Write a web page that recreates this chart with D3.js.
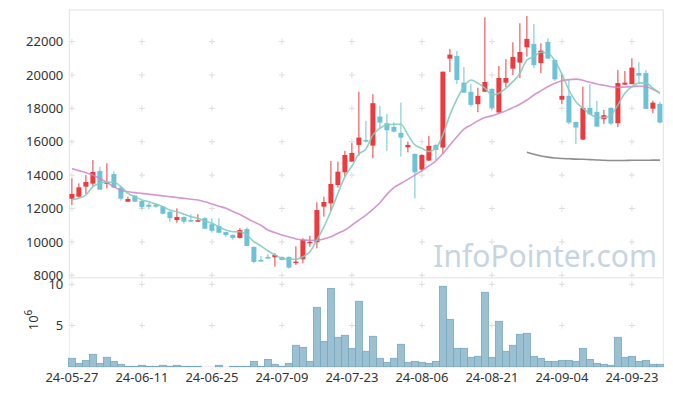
<!DOCTYPE html>
<html lang="en">
<head>
    <meta charset="UTF-8">
    <title>Price and volume</title>
    <script src="https://cdn.jsdelivr.net/npm/d3@7"></script>
    <style>
        body { margin: 0; background: #fff; }
        text { font-family: 'Noto Sans', sans-serif; font-size: 13px; fill: #333; }
    </style>
</head>
<body>
<script>
    const width  = 673;
    const height = 396;

    // trading days, 2024-05-27 .. 2024-09-27
    const dates = [
        "24-05-27","24-05-28","24-05-29","24-05-30","24-05-31",
        "24-06-03","24-06-04","24-06-05","24-06-07","24-06-10","24-06-11","24-06-12","24-06-13","24-06-14",
        "24-06-17","24-06-18","24-06-19","24-06-20","24-06-21","24-06-24","24-06-25","24-06-26","24-06-27","24-06-28",
        "24-07-01","24-07-02","24-07-03","24-07-04","24-07-05","24-07-08","24-07-09","24-07-10","24-07-11","24-07-12",
        "24-07-15","24-07-16","24-07-17","24-07-18","24-07-19","24-07-22","24-07-23","24-07-24","24-07-25","24-07-26",
        "24-07-29","24-07-30","24-07-31","24-08-01","24-08-02","24-08-05","24-08-06","24-08-07","24-08-08","24-08-09",
        "24-08-12","24-08-13","24-08-14","24-08-16","24-08-19","24-08-20","24-08-21","24-08-22","24-08-23",
        "24-08-26","24-08-27","24-08-28","24-08-29","24-08-30",
        "24-09-02","24-09-03","24-09-04","24-09-05","24-09-06","24-09-09","24-09-10","24-09-11","24-09-12","24-09-13",
        "24-09-19","24-09-20","24-09-23","24-09-24","24-09-25","24-09-26","24-09-27"
    ];

    const open  = [12590,12710,13310,13490,14250,13490,14070,13250,12410,12770,12450,12230,12230,12110,11810,
                   11310,11490,11310,11240,11420,11060,10950,10590,10420,10240,10770,9700,8920,9100,9080,
                   9100,9100,8760,8960,9920,9980,12110,12310,13410,14170,14810,15810,16110,15770,17510,
                   17110,16890,16530,15670,15270,14330,14870,15810,15650,20980,21140,19540,18990,18250,19000,
                   19170,17750,19540,20380,20740,21660,21860,20710,21980,20900,18520,18750,17190,16130,18030,
                   17790,17350,18030,17110,19420,19450,20120,20120,17980,18270];
    const high  = [13810,13510,14010,14910,14510,14710,14230,13310,12710,12800,12470,12350,12290,12150,11830,
                   12010,11520,11660,11660,11480,11420,11420,10620,10440,10820,10870,9720,9160,9280,9320,
                   9130,9130,9740,10220,10370,12370,12710,14850,14810,15450,15910,19000,17250,18850,18150,
                   17670,17170,18340,16010,15300,15250,16350,15850,20200,21560,21440,20470,19460,19240,23460,
                   19200,20540,20940,21960,23100,23540,23060,21900,22200,20920,20000,19700,17200,19300,19450,
                   18450,17910,18050,20290,20240,21000,20760,20300,18460,18390];
    const low   = [12210,12650,12870,13350,13130,13210,13250,12470,12410,12400,11950,11960,12050,11650,11210,
                   11150,11090,11210,11240,10790,10550,10550,10310,10130,10200,9760,8720,8800,8990,8520,
                   8900,8400,8620,8720,9710,9620,11510,11850,13250,13910,14810,15170,15960,15010,16810,
                   15450,16550,15110,15370,12610,14200,14870,14910,15310,20170,19450,18940,18100,17770,19000,
                   17910,17750,19270,19990,19810,21100,20410,20110,20980,19640,18250,17050,15870,16100,17600,
                   16900,17070,17000,16870,19400,19450,19510,17970,17710,17100];
    const close = [12870,13270,13590,14190,13130,13570,13250,12590,12570,12410,12080,12110,12110,11690,11420,
                   11490,11210,11210,11300,10790,10670,10550,10410,10240,10710,9760,8800,8860,9000,9220,
                   8920,8460,8820,10120,10010,11910,12390,13470,14210,15210,15330,16250,16010,18310,17150,
                   16690,16610,16250,15810,14170,15210,15750,15510,20200,21220,19700,18940,18210,18750,19580,
                   18030,19820,19820,21080,21380,22160,20590,21460,20980,19740,18750,17150,16850,18030,17650,
                   16910,17590,17090,19520,19540,20440,19960,17970,18340,17150];

    // volume, millions of shares
    const volume = [1.02,0.41,0.77,1.50,0.41,1.14,0.65,0.29,0.05,0.05,0.17,0.05,0.05,0.17,0.05,
                    0.17,0.05,0.05,0.05,0,0,0.17,0,0.05,0.05,0.05,0.65,0.05,0.89,0.29,
                    0.05,0.41,2.60,2.35,0.65,7.20,3.08,9.50,3.57,3.81,2.23,7.94,1.87,3.69,1.02,
                    0.53,1.02,2.72,0.53,0.65,0.53,0.41,0.65,9.76,5.75,2.23,2.23,1.14,1.26,9.03,
                    1.14,5.51,1.87,2.60,3.93,4.05,1.26,1.02,0.65,0.65,0.77,0.77,0.65,2.23,0.89,
                    0.41,0.29,0.17,3.57,1.14,1.26,0.65,0.77,0.29,0.29];

    // moving averages
    const ma5  = [12530,12610,12810,13310,13510,13590,13570,13310,12910,12710,12510,12410,12270,12110,11910,
                  11810,11660,11510,11420,11250,11120,10910,10710,10610,10610,10420,10010,9760,9470,9220,
                  9020,8960,8960,9110,9410,10120,10900,11850,12900,13900,14550,15260,15560,16410,16810,
                  17010,17050,17050,16410,15810,15610,15410,15610,16410,17610,18560,19300,19700,19510,19210,
                  18810,18910,19210,19600,20100,20900,21100,21360,21300,20850,20050,19100,18400,18010,17670,
                  17470,17450,17610,18210,18910,19300,19510,19510,19210,18910];
    const ma20 = [14390,14270,14150,14000,13810,13560,13300,13100,13000,12950,12910,12860,12810,12760,12710,
                  12660,12610,12560,12510,12400,12270,12140,12010,11820,11640,11420,11200,11000,10710,10560,
                  10420,10300,10180,10120,10100,10100,10180,10310,10520,10710,11010,11310,11610,11950,12350,
                  12850,13250,13500,13750,14000,14270,14550,14850,15300,15800,16300,16750,17000,17250,17450,
                  17550,17700,17850,18050,18250,18500,18800,19050,19300,19500,19650,19720,19750,19680,19560,
                  19460,19380,19300,19260,19280,19300,19340,19300,19150,18910];
    // long average, only drawn for the last days
    const maLong = [15370,15250,15150,15080,15030,15000,14980,14960,14950,14930,
                    14910,14890,14880,14880,14880,14890,14890,14890,14900,14900];

    const priceTicks  = [8000,10000,12000,14000,16000,18000,20000,22000];
    const volumeTicks = [5,10];
    const dateTicks   = ["24-05-27","24-06-11","24-06-25","24-07-09","24-07-23","24-08-06","24-08-21","24-09-04","24-09-23"];

    const plotL = 69.3, plotR = 663.3, plotT = 10, plotSplit = 277.7, plotB = 366.7;

    const x = d3.scaleBand().domain(dates).range([68.4, 663.4]);
    const cx = d => x(d) + x.bandwidth() / 2;

    const yP = d3.scaleLinear().domain([8000, 22000]).range([275.3, 41.6]);
    const yV = d3.scaleLinear().domain([0, 10]).range([plotB, 284.3]);

    const svg = d3.select("body").append("svg").attr("width", width).attr("height", height);

    // frames
    svg.append("rect").attr("x", plotL).attr("y", plotT)
        .attr("width", plotR - plotL).attr("height", plotSplit - plotT)
        .attr("fill", "none").attr("stroke", "#e2e2e2");
    svg.append("rect").attr("x", plotL).attr("y", plotSplit)
        .attr("width", plotR - plotL).attr("height", plotB - plotSplit)
        .attr("fill", "none").attr("stroke", "#ececec");

    // cross marks at tick intersections
    const cross = "M-3,0H3M0,-3V3";
    const grid = svg.append("g").attr("stroke", "#dedede").attr("fill", "none");
    dateTicks.forEach(d => {
        priceTicks.forEach(p => grid.append("path").attr("d", cross)
            .attr("transform", "translate(" + [cx(d), yP(p)] + ")"));
        volumeTicks.forEach(v => grid.append("path").attr("d", cross)
            .attr("transform", "translate(" + [cx(d), yV(v)] + ")"));
    });

    // watermark
    svg.append("text")
        .attr("x", 657).attr("y", 267)
        .attr("text-anchor", "end")
        .style("font-size", "30px")
        .style("fill", "#c6d5df")
        .text("InfoPointer.com");

    // volume bars
    svg.append("g").selectAll("rect")
        .data(dates)
        .join("rect")
        .attr("x", d => x(d))
        .attr("width", x.bandwidth())
        .attr("y", (d, i) => yV(volume[i]))
        .attr("height", (d, i) => plotB - yV(volume[i]))
        .attr("fill", "#9bc0d2")
        .attr("stroke", "#77a7bf")
        .attr("stroke-width", 0.8);

    // candles
    const red = "#ec3a3e", blue = "#6ec2d8";
    const candle = svg.append("g").selectAll("g")
        .data(dates)
        .join("g")
        .attr("fill", (d, i) => close[i] >= open[i] ? red : blue)
        .attr("stroke", (d, i) => close[i] >= open[i] ? red : blue);

    candle.append("line")
        .attr("x1", d => cx(d)).attr("x2", d => cx(d))
        .attr("y1", (d, i) => yP(high[i]))
        .attr("y2", (d, i) => yP(low[i]))
        .attr("stroke-width", 1);

    candle.append("rect")
        .attr("stroke", "none")
        .attr("x", d => cx(d) - 2.5)
        .attr("width", 5)
        .attr("y", (d, i) => yP(Math.max(open[i], close[i])))
        .attr("height", (d, i) => Math.max(1.5, Math.abs(yP(open[i]) - yP(close[i]))));

    // averages
    const line = d3.line()
        .x(d => cx(d[0]))
        .y(d => yP(d[1]))
        .curve(d3.curveMonotoneX);

    svg.append("path")
        .attr("d", line(dates.map((d, i) => [d, ma20[i]])))
        .attr("fill", "none").attr("stroke", "#cc86c5")
        .attr("stroke-width", 1.6).attr("opacity", 0.85);

    svg.append("path")
        .attr("d", line(dates.map((d, i) => [d, ma5[i]])))
        .attr("fill", "none").attr("stroke", "#84cbbf")
        .attr("stroke-width", 1.6).attr("opacity", 0.9);

    const longDates = dates.slice(dates.length - maLong.length);
    svg.append("path")
        .attr("d", line(longDates.map((d, i) => [d, maLong[i]])))
        .attr("fill", "none").attr("stroke", "#8e8e8e")
        .attr("stroke-width", 1.6);

    // axes
    const axP = svg.append("g")
        .attr("transform", "translate(" + plotL + ",0)")
        .call(d3.axisLeft(yP).tickValues(priceTicks).tickFormat(d3.format("d")).tickSize(0).tickPadding(6));
    axP.select(".domain").remove();

    const axV = svg.append("g")
        .attr("transform", "translate(" + plotL + ",0)")
        .call(d3.axisLeft(yV).tickValues(volumeTicks).tickSize(0).tickPadding(6));
    axV.select(".domain").remove();

    const axX = svg.append("g")
        .attr("transform", "translate(0," + plotB + ")")
        .call(d3.axisBottom(x).tickValues(dateTicks).tickSize(0).tickPadding(6));
    axX.select(".domain").remove();

    svg.selectAll(".tick text").style("font-family", "'Noto Sans', sans-serif").style("font-size", "13px").style("fill", "#333");

    // unit label for volume
    const unit = svg.append("text")
        .attr("transform", "translate(38,320) rotate(-90)")
        .attr("text-anchor", "middle");
    unit.append("tspan").text("10");
    unit.append("tspan").attr("dy", -6).style("font-size", "10px").text("6");
</script>
</body>
</html>
